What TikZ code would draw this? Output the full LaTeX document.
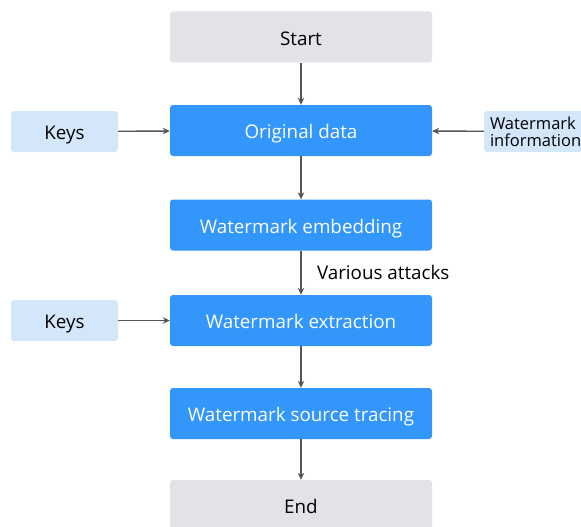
\documentclass[tikz,border=0pt]{standalone}
\usepackage{fontspec}
\setmainfont{Open Sans}
\usetikzlibrary{arrows.meta}
\definecolor{bluebox}{HTML}{3296FA}
\definecolor{graybox}{HTML}{E1E3E6}
\definecolor{lightblue}{HTML}{D3E6FA}
\definecolor{arrowc}{HTML}{555555}
\tikzset{
  base/.style={rounded corners=3pt, inner sep=0pt, font=\fontsize{18.8}{22}\selectfont},
  onel/.style={text height=16.6pt, text depth=0pt},
  mainbox/.style={base, onel, fill=bluebox, text=white, minimum width=262pt, minimum height=51pt},
  termbox/.style={base, onel, fill=graybox, text=black, minimum width=262pt, minimum height=51pt},
  sidebox/.style={base, fill=lightblue, text=black, minimum width=107pt, minimum height=41pt},
  conn/.style={draw=arrowc, line width=1.4pt, -{Stealth[length=7pt,width=6.5pt]}},
}
\begin{document}
\begin{tikzpicture}[x=1pt,y=-1pt]
\clip (0,0) rectangle (581,527);
\fill[white] (0,0) rectangle (581,527);
\node[termbox] (start) at (301,37) {Start};
\node[mainbox] (orig) at (301,130.5) {Original data};
\node[mainbox] (embed) at (301,225) {Watermark embedding};
\node[mainbox] (extr) at (301,320.5) {Watermark extraction};
\node[mainbox] (trace) at (301,413.5) {Watermark source tracing};
\node[termbox] (end) at (301,505.5) {End};
\node[sidebox, onel] (keys1) at (64.5,131.5) {Keys};
\node[sidebox, onel] (keys2) at (64.5,320.5) {Keys};
\node[sidebox, align=left, font=\fontsize{16.5}{17}\selectfont, text width=95pt] (info) at (537.5,131.5) {Watermark\\information};
\draw[conn] (start) -- (orig);
\draw[conn] (orig) -- (embed);
\draw[conn] (embed) -- node[right, xshift=12pt, text=black, font=\fontsize{18.8}{22}\selectfont] (att) {Various attacks} (extr);
\draw[conn] (extr) -- (trace);
\draw[conn] (trace) -- (end);
\draw[conn] (keys1) -- (orig);
\draw[conn] (keys2) -- (extr);
\draw[conn] (info) -- (orig);
\end{tikzpicture}
\end{document}
